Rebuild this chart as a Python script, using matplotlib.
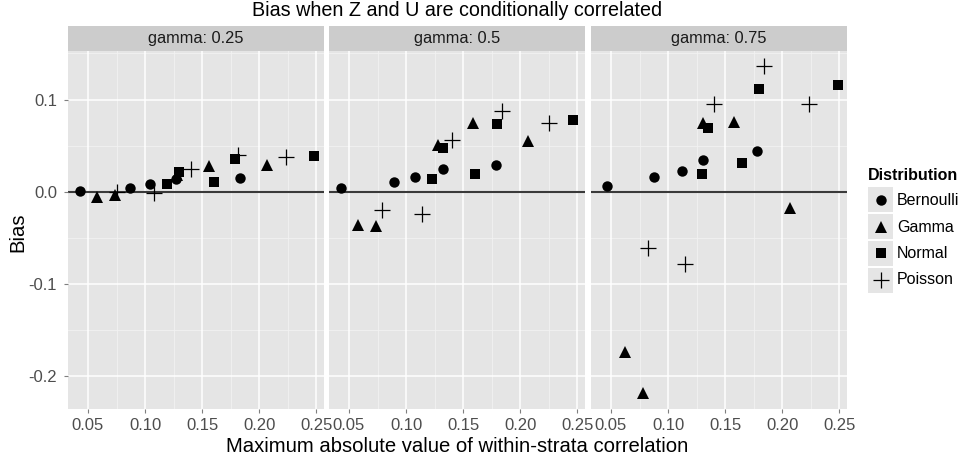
import numpy as np
import matplotlib
matplotlib.use("Agg")
import matplotlib.pyplot as plt

plt.rcParams['font.family'] = ['Liberation Sans', 'DejaVu Sans']

# data, one set of arrays per gamma panel
gammas = ["0.25", "0.5", "0.75"]
distributions = ["Bernoulli", "Gamma", "Normal", "Poisson"]

# gamma = 0.25
g25_bern_x = [0.043, 0.087, 0.104, 0.127, 0.183]
g25_bern_y = [0.001, 0.004, 0.008, 0.014, 0.015]
g25_gamma_x = [0.058, 0.074, 0.128, 0.156, 0.207]
g25_gamma_y = [-0.006, -0.004, 0.018, 0.028, 0.029]
g25_norm_x = [0.119, 0.130, 0.160, 0.179, 0.248]
g25_norm_y = [0.008, 0.021, 0.010, 0.035, 0.039]
g25_pois_x = [0.075, 0.108, 0.140, 0.181, 0.2235]
g25_pois_y = [-0.001, -0.002, 0.024, 0.040, 0.038]

# gamma = 0.5
g50_bern_x = [0.0433, 0.0895, 0.108, 0.132, 0.179]
g50_bern_y = [0.004, 0.010, 0.016, 0.024, 0.029]
g50_gamma_x = [0.058, 0.074, 0.128, 0.159, 0.207]
g50_gamma_y = [-0.036, -0.037, 0.051, 0.074, 0.055]
g50_norm_x = [0.123, 0.132, 0.160, 0.1795, 0.246]
g50_norm_y = [0.014, 0.047, 0.019, 0.073, 0.078]
g50_pois_x = [0.0787, 0.114, 0.1406, 0.1836, 0.2254]
g50_pois_y = [-0.020, -0.024, 0.056, 0.087, 0.075]

# gamma = 0.75
g75_bern_x = [0.0465, 0.0874, 0.112, 0.131, 0.178]
g75_bern_y = [0.0065, 0.0156, 0.022, 0.0345, 0.0436]
g75_gamma_x = [0.0626, 0.078, 0.131, 0.1576, 0.2067]
g75_gamma_y = [-0.1745, -0.219, 0.0745, 0.0756, -0.018]
g75_norm_x = [0.130, 0.135, 0.165, 0.180, 0.249]
g75_norm_y = [0.019, 0.069, 0.031, 0.111, 0.116]
g75_pois_x = [0.082, 0.1146, 0.140, 0.184, 0.2234]
g75_pois_y = [-0.061, -0.079, 0.095, 0.136, 0.095]

panels = [
    [(g25_bern_x, g25_bern_y), (g25_gamma_x, g25_gamma_y), (g25_norm_x, g25_norm_y), (g25_pois_x, g25_pois_y)],
    [(g50_bern_x, g50_bern_y), (g50_gamma_x, g50_gamma_y), (g50_norm_x, g50_norm_y), (g50_pois_x, g50_pois_y)],
    [(g75_bern_x, g75_bern_y), (g75_gamma_x, g75_gamma_y), (g75_norm_x, g75_norm_y), (g75_pois_x, g75_pois_y)],
]

x_ticks = [0.05, 0.10, 0.15, 0.20, 0.25]
x_minor = [0.075, 0.125, 0.175, 0.225]
y_ticks = [-0.2, -0.1, 0.0, 0.1]
y_minor = [-0.15, -0.05, 0.05, 0.15]

# marker styles per distribution
styles = {
    "Bernoulli": dict(marker="o", ms=7.5, mfc="black", mec="black", mew=0),
    "Gamma": dict(marker="^", ms=8, mfc="black", mec="black", mew=0),
    "Normal": dict(marker="s", ms=6.8, mfc="black", mec="black", mew=0),
    "Poisson": dict(marker="+", ms=11, mfc="none", mec="black", mew=0.9),
}

W, H = 966, 461
fig = plt.figure(figsize=(W / 100, H / 100), dpi=100)
fig.patch.set_facecolor("white")


def px_axes(x0, y0, x1, y1):
    return fig.add_axes([x0 / W, 1 - y1 / H, (x1 - x0) / W, (y1 - y0) / H])


panel_lefts = [68, 329, 591]
panel_w = 256
top, bottom = 51, 409
strip_top = 26

for i, (left, gam, series) in enumerate(zip(panel_lefts, gammas, panels)):
    ax = px_axes(left, top, left + panel_w, bottom)
    ax.set_facecolor("#E5E5E5")
    ax.set_xlim(0.0325, 0.2567)
    ax.set_ylim(-0.2362, 0.1527)
    for v in x_minor:
        ax.axvline(v, color="#F2F2F2", lw=0.6, zorder=0)
    for v in y_minor:
        ax.axhline(v, color="#F2F2F2", lw=0.6, zorder=0)
    for v in x_ticks:
        ax.axvline(v, color="white", lw=1.1, zorder=0.5)
    for v in y_ticks:
        ax.axhline(v, color="white", lw=1.1, zorder=0.5)
    ax.axhline(0, color="#3A3A3A", lw=1.5, zorder=1)

    for name, (xs, ys) in zip(distributions, series):
        ax.plot(xs, ys, ls="none", zorder=3, **styles[name])

    for s in ax.spines.values():
        s.set_visible(False)
    ax.set_xticks(x_ticks)
    ax.set_xticklabels(["%.2f" % v for v in x_ticks])
    ax.tick_params(axis="both", colors="#7F7F7F", length=3, width=0.8,
                   labelsize=12, labelcolor="#4D4D4D")
    ax.tick_params(axis="x", pad=3.5)
    ax.tick_params(axis="y", pad=5)
    ax.set_yticks(y_ticks)
    if i == 0:
        ax.set_yticklabels(["%.1f" % v for v in y_ticks])
    else:
        ax.tick_params(axis="y", length=0, labelleft=False)

    strip = px_axes(left, strip_top, left + panel_w, top)
    strip.set_facecolor("#CCCCCC")
    strip.set_xticks([])
    strip.set_yticks([])
    for s in strip.spines.values():
        s.set_visible(False)
    strip.text(0.5, 0.5, "gamma: " + gam, ha="center", va="center",
               fontsize=11.8, color="#1A1A1A", transform=strip.transAxes)

fig.text(457 / W, 1 - 11 / H, "Bias when Z and U are conditionally correlated",
         ha="center", va="center", fontsize=14.2, color="black")
fig.text(457 / W, 1 - 446 / H, "Maximum absolute value of within-strata correlation",
         ha="center", va="center", fontsize=14.6, color="black")
fig.text(18 / W, 1 - 232 / H, "Bias", ha="center", va="center", rotation=90,
         fontsize=14.6, color="black")

# legend
fig.text(868 / W, 1 - 175 / H, "Distribution", ha="left", va="center",
         fontsize=11.5, fontweight="bold", color="black")
key_y = [200, 227, 253, 280]
for name, ky in zip(distributions, key_y):
    kax = px_axes(868, ky - 12.5, 893, ky + 12.5)
    kax.set_facecolor("#E5E5E5")
    kax.set_xlim(0, 1)
    kax.set_ylim(0, 1)
    kax.set_xticks([])
    kax.set_yticks([])
    for s in kax.spines.values():
        s.set_visible(False)
    kax.plot([0.5], [0.5], ls="none", **styles[name])
    fig.text(897 / W, 1 - ky / H, name, ha="left", va="center",
             fontsize=11.5, color="black")

fig.savefig("out.png", dpi=100)
